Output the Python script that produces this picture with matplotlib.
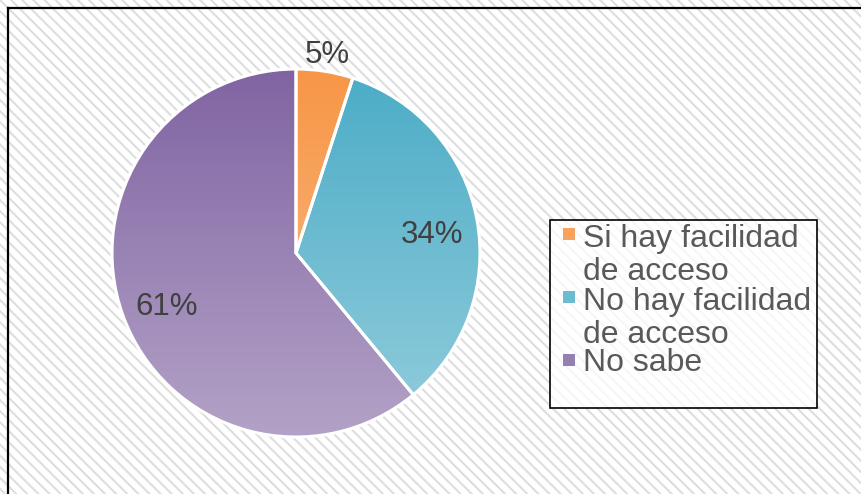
import matplotlib
matplotlib.use("Agg")
import matplotlib.pyplot as plt
import numpy as np
from matplotlib.patches import Rectangle
from matplotlib.lines import Line2D
from matplotlib.colors import LinearSegmentedColormap

plt.rcParams['font.family'] = ['Liberation Sans', 'DejaVu Sans']
plt.rcParams['hatch.linewidth'] = 1.5

# datos
categorias = ['Si hay facilidad\nde acceso', 'No hay facilidad\nde acceso', 'No sabe']
valores = [5, 34, 61]
color_arriba = ['#F79646', '#4BACC6', '#8064A2']
color_abajo = ['#FAC090', '#93CDDD', '#B3A2C7']
color_leyenda = ['#F8A25E', '#6BBCD1', '#9580B2']

W, H = 862, 494
fig = plt.figure(figsize=(W / 100, H / 100), dpi=100)


def fx(px):
    return px / W


def fy(py):
    return 1 - py / H


# fondo rayado
fondo = Rectangle((0, 0), 1, 1, transform=fig.transFigure, facecolor='white',
                  edgecolor='#dedede', linewidth=0, hatch='\\' * 3, zorder=-10)
fig.patches.append(fondo)
# marco (solo se ven borde izquierdo y superior)
fig.add_artist(Line2D([fx(8.5), fx(8.5)], [0, fy(8.5)], transform=fig.transFigure,
                      color='black', lw=1.6, zorder=-5))
fig.add_artist(Line2D([fx(8.5), 1], [fy(8.5), fy(8.5)], transform=fig.transFigure,
                      color='black', lw=1.6, zorder=-5))

# pastel
cx, cy, r = 296, 253, 184
lim = 200 / r
ax = fig.add_axes([fx(cx - 200), fy(cy + 200), 400 / W, 400 / H])
ax.patch.set_alpha(0)

wedges, textos, autotextos = ax.pie(
    valores, startangle=90, counterclock=False, radius=1, center=(0, 0),
    autopct='%1.0f%%', pctdistance=0.75, frame=True,
    wedgeprops=dict(edgecolor='white', linewidth=2.2),
    textprops=dict(fontsize=22.5, color='#404040'))
ax.axis('off')

grad = np.linspace(0, 1, 256).reshape(-1, 1)
for w, c1, c2 in zip(wedges, color_arriba, color_abajo):
    cmap = LinearSegmentedColormap.from_list('g', [c1, c2])
    im = ax.imshow(grad, cmap=cmap, extent=(-1, 1, -1, 1), origin='upper',
                   aspect='auto', zorder=1)
    im.set_clip_path(w)
    w.set_facecolor('none')
    w.set_zorder(2)
ax.set_xlim(-lim, lim)
ax.set_ylim(-lim, lim)

for t in autotextos:
    t.set_zorder(3)
    x, y = t.get_position()
    t.set_position((x, y - 0.04))

# la etiqueta pequeña va fuera del pastel
x0, y0 = autotextos[0].get_position()
d = np.hypot(x0, y0 + 0.04)
autotextos[0].set_position((x0 / d * 1.1, (y0 + 0.04) / d * 1.1 - 0.01))

# leyenda manual
fig.patches.append(Rectangle((fx(550), fy(408)), fx(817) - fx(550), fy(220) - fy(408),
                             transform=fig.transFigure, facecolor='white', alpha=0.75,
                             edgecolor='none', zorder=1))
fig.patches.append(Rectangle((fx(550), fy(408)), fx(817) - fx(550), fy(220) - fy(408),
                             transform=fig.transFigure, facecolor='none',
                             edgecolor='black', linewidth=1.2, zorder=2))
for i, (lab, col) in enumerate(zip(categorias, color_leyenda)):
    base = 245 + 63 * i
    fig.patches.append(Rectangle((fx(563), fy(base - 5)), 12 / W, 12 / H,
                                 transform=fig.transFigure, facecolor=col,
                                 edgecolor='none', zorder=3))
    fig.text(fx(583), fy(base + 35 * lab.count('\n')), lab, fontsize=23, color='#595959',
             va='baseline', ha='left', linespacing=1.12, zorder=3)

fig.savefig('out.png', dpi=100)
